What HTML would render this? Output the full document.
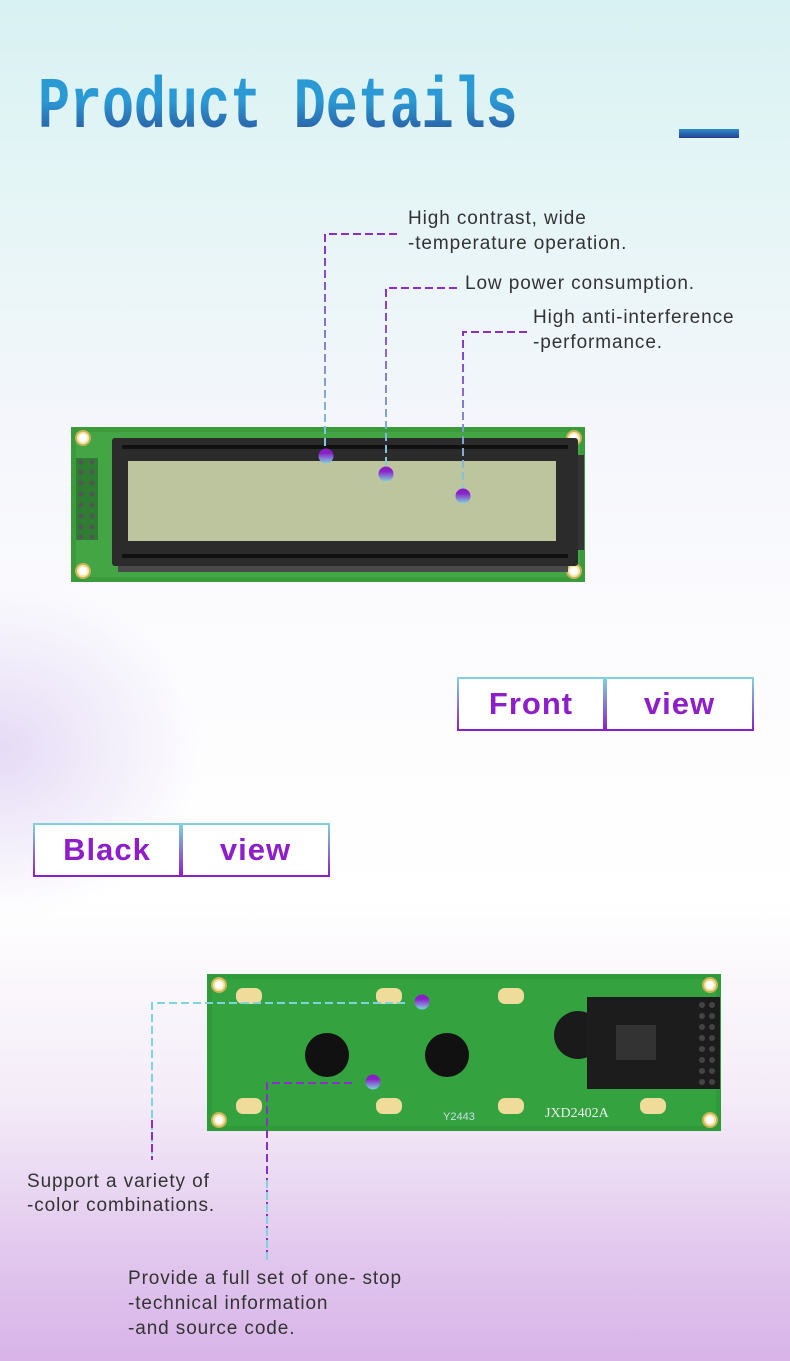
<!DOCTYPE html>
<html><head><meta charset="utf-8"><style>
body{margin:0}
#p{position:relative;width:790px;height:1361px;overflow:hidden;font-family:"Liberation Sans",sans-serif;
background:linear-gradient(180deg,#d8f1f2 0px,#e4f5f6 180px,#f4f6fb 420px,#fbfbfe 600px,#ffffff 900px,#f4ecf8 1100px,#e2c8ee 1250px,#d8b4e8 1361px);}
.glow{position:absolute;left:-200px;top:580px;width:400px;height:340px;border-radius:50%;background:radial-gradient(closest-side,rgba(220,205,242,.7),rgba(235,225,248,0));}
.t{position:absolute;color:#333;font-size:19px;letter-spacing:0.9px;line-height:25px;white-space:nowrap}
.title{position:absolute;left:38px;top:68px;font-family:"Liberation Mono",monospace;font-weight:bold;font-size:72px;line-height:80px;transform:scaleX(.74);transform-origin:left top;
background:linear-gradient(180deg,#2b9ad4 40%,#2a3f8c 100%);-webkit-background-clip:text;background-clip:text;color:transparent;white-space:nowrap}
.btn{position:absolute;height:50px;border:2px solid;border-image:linear-gradient(180deg,#7fd3dc,#8a1fc8) 1;background:#fff;color:#8d1ec9;font-size:31px;font-weight:bold;text-align:center;line-height:50px;box-sizing:content-box;letter-spacing:1px}
</style></head><body><div id="p">
<div class="glow"></div>
<div class="title">Product Details</div>
<div style="position:absolute;left:679px;top:129px;width:60px;height:9px;background:linear-gradient(180deg,#2a8ed0,#2a3f8c)"></div>

<div class="t" style="left:408px;top:206px">High contrast, wide</div>
<div class="t" style="left:408px;top:231px">-temperature operation.</div>
<div class="t" style="left:465px;top:271px">Low power consumption.</div>
<div class="t" style="left:533px;top:305px">High anti-interference</div>
<div class="t" style="left:533px;top:330px">-performance.</div>

<svg style="position:absolute;left:0;top:0" width="790" height="1361">
<defs>
<linearGradient id="dot" x1="0" y1="0" x2="0" y2="1"><stop offset="0.3" stop-color="#8a1fc8"/><stop offset="1" stop-color="#7fd3dc"/></linearGradient>
<linearGradient id="vl" x1="0" y1="0" x2="0" y2="1"><stop offset="0" stop-color="#8a2fc8"/><stop offset="1" stop-color="#7fd3dc"/></linearGradient>
</defs>
<rect x="71" y="427" width="514" height="155" fill="#3a9a3c"/>
<rect x="76" y="432" width="504" height="145" fill="#43a544"/>
<g fill="#f4e9b0" stroke="#c9b45a" stroke-width="2">
<circle cx="83" cy="438" r="7"/><circle cx="574" cy="438" r="7"/><circle cx="83" cy="571" r="7"/><circle cx="574" cy="571" r="7"/></g>
<g fill="#fff"><circle cx="83" cy="438" r="4"/><circle cx="574" cy="438" r="4"/><circle cx="83" cy="571" r="4"/><circle cx="574" cy="571" r="4"/></g>
<rect x="76" y="458" width="22" height="82" fill="#2e7d32"/>
<g fill="#555"><circle cx="81" cy="462" r="2.5"/><circle cx="92" cy="462" r="2.5"/><circle cx="81" cy="472" r="2.5"/><circle cx="92" cy="472" r="2.5"/><circle cx="81" cy="483" r="2.5"/><circle cx="92" cy="483" r="2.5"/><circle cx="81" cy="494" r="2.5"/><circle cx="92" cy="494" r="2.5"/><circle cx="81" cy="505" r="2.5"/><circle cx="92" cy="505" r="2.5"/><circle cx="81" cy="516" r="2.5"/><circle cx="92" cy="516" r="2.5"/><circle cx="81" cy="527" r="2.5"/><circle cx="92" cy="527" r="2.5"/><circle cx="81" cy="537" r="2.5"/><circle cx="92" cy="537" r="2.5"/></g>
<rect x="570" y="455" width="14" height="95" fill="#333"/>
<rect x="112" y="438" width="466" height="128" rx="3" fill="#2b2b2b"/>
<rect x="122" y="445" width="446" height="4" fill="#111"/>
<rect x="122" y="554" width="446" height="4" fill="#111"/>
<rect x="128" y="461" width="428" height="80" fill="#bdc59f"/>
<rect x="118" y="566" width="450" height="6" fill="#4a4a4a"/>
<g fill="none" stroke-width="2" stroke-dasharray="8,4">
<path d="M397 234H325V450" stroke="url(#vl)"/>
<path d="M457 288H386V468" stroke="url(#vl)"/>
<path d="M527 332H463V490" stroke="url(#vl)"/>
</g>
<path d="M397 234H325" stroke="#8a2fc8" stroke-width="2" stroke-dasharray="8,4"/>
<path d="M457 288H386" stroke="#8a2fc8" stroke-width="2" stroke-dasharray="8,4"/>
<path d="M527 332H463" stroke="#8a2fc8" stroke-width="2" stroke-dasharray="8,4"/>
<circle cx="326" cy="456" r="7.5" fill="url(#dot)"/>
<circle cx="386" cy="474" r="7.5" fill="url(#dot)"/>
<circle cx="463" cy="496" r="7.5" fill="url(#dot)"/>

<rect x="207" y="974" width="514" height="157" fill="#2f9a3a"/>
<rect x="212" y="979" width="504" height="147" fill="#34a33f"/>
<g fill="#f3e3a0" stroke="#c9b45a" stroke-width="2">
<circle cx="219" cy="985" r="7"/><circle cx="710" cy="985" r="7"/><circle cx="219" cy="1120" r="7"/><circle cx="710" cy="1120" r="7"/></g>
<g fill="#fff"><circle cx="219" cy="985" r="4"/><circle cx="710" cy="985" r="4"/><circle cx="219" cy="1120" r="4"/><circle cx="710" cy="1120" r="4"/></g>
<g fill="#f0dc9a"><rect x="236" y="988" width="26" height="16" rx="7"/><rect x="376" y="988" width="26" height="16" rx="7"/><rect x="498" y="988" width="26" height="16" rx="7"/><rect x="236" y="1098" width="26" height="16" rx="7"/><rect x="376" y="1098" width="26" height="16" rx="7"/><rect x="498" y="1098" width="26" height="16" rx="7"/><rect x="640" y="1098" width="26" height="16" rx="7"/></g>
<circle cx="327" cy="1055" r="22" fill="#111"/>
<circle cx="447" cy="1055" r="22" fill="#111"/>
<circle cx="578" cy="1035" r="24" fill="#1a1a1a"/>
<rect x="587" y="997" width="133" height="92" fill="#1c1c1c"/>
<rect x="616" y="1025" width="40" height="35" fill="#333"/>
<g fill="#444"><circle cx="702" cy="1005" r="3"/><circle cx="712" cy="1005" r="3"/><circle cx="702" cy="1016" r="3"/><circle cx="712" cy="1016" r="3"/><circle cx="702" cy="1027" r="3"/><circle cx="712" cy="1027" r="3"/><circle cx="702" cy="1038" r="3"/><circle cx="712" cy="1038" r="3"/><circle cx="702" cy="1049" r="3"/><circle cx="712" cy="1049" r="3"/><circle cx="702" cy="1060" r="3"/><circle cx="712" cy="1060" r="3"/><circle cx="702" cy="1071" r="3"/><circle cx="712" cy="1071" r="3"/><circle cx="702" cy="1082" r="3"/><circle cx="712" cy="1082" r="3"/></g>
<text x="545" y="1117" font-family="Liberation Serif,serif" font-size="14" fill="#eee">JXD2402A</text>
<text x="443" y="1120" font-family="Liberation Sans,sans-serif" font-size="11" fill="#cde">Y2443</text>
<path d="M405 1003H152V1160" fill="none" stroke="#7fd3dc" stroke-width="2" stroke-dasharray="8,4"/>
<path d="M152 1120V1160" fill="none" stroke="#8a2fc8" stroke-width="2" stroke-dasharray="8,4"/>
<path d="M352 1083H267V1262" fill="none" stroke="#8a2fc8" stroke-width="2" stroke-dasharray="8,4"/>
<path d="M267 1180V1262" fill="none" stroke="#7fd3dc" stroke-width="2" stroke-dasharray="8,4"/>
<circle cx="422" cy="1002" r="7.5" fill="url(#dot)"/>
<circle cx="373" cy="1082" r="7.5" fill="url(#dot)"/>
</svg>

<div class="btn" style="left:457px;top:677px;width:144px">Front</div>
<div class="btn" style="left:605px;top:677px;width:145px">view</div>
<div class="btn" style="left:33px;top:823px;width:144px">Black</div>
<div class="btn" style="left:181px;top:823px;width:145px">view</div>

<div class="t" style="left:27px;top:1169px">Support a variety of</div>
<div class="t" style="left:27px;top:1193px">-color combinations.</div>
<div class="t" style="left:128px;top:1266px">Provide a full set of one- stop</div>
<div class="t" style="left:128px;top:1291px">-technical information</div>
<div class="t" style="left:128px;top:1316px">-and source code.</div>
</div></body></html>
